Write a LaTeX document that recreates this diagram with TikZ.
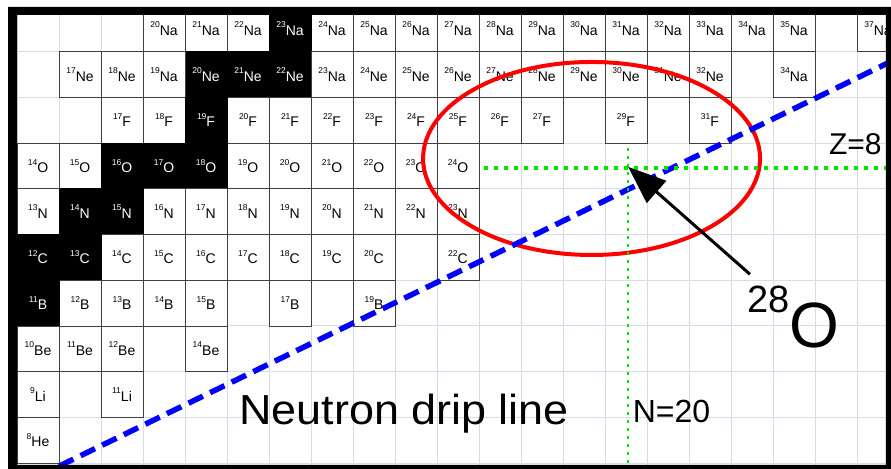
\documentclass[tikz,border=0pt]{standalone}
\usepackage{fontspec}
\setmainfont{Liberation Sans}
\usepackage{tikz}
\usetikzlibrary{arrows.meta}
\definecolor{gridblue}{HTML}{D6DCEA}
\definecolor{dripblue}{HTML}{0000FF}
\definecolor{magicgreen}{HTML}{00E600}
\newcommand{\iso}[2]{\raisebox{7.5pt}{\fontsize{8.5}{8.5}\selectfont#1}#2}
\tikzset{
  cell/.style   = {draw=black!75, fill=white, line width=0.7pt, minimum width=42pt,
                   minimum height=45.7pt, inner sep=0pt, font=\fontsize{14}{14}\selectfont},
  stab/.style   = {cell, draw=black, fill=black, text=white},
  gridln/.style = {draw=gridblue, line width=0.8pt},
  drip/.style   = {draw=dripblue, line width=5.5pt, dash pattern=on 16pt off 8pt},
  magic/.style  = {draw=magicgreen, line width=4pt, dash pattern=on 4pt off 6pt},
  magicv/.style = {draw=magicgreen, line width=2.5pt, dash pattern=on 2.5pt off 5.5pt},
  ring/.style   = {draw=red, line width=4pt},
  ptr/.style    = {-{Triangle[length=38pt, width=29pt]}, line width=3pt},
  lbl/.style    = {inner sep=0pt, anchor=base west},
}

\begin{document}
\begin{tikzpicture}[x=42pt, y=45.7pt]
  \useasboundingbox (5.095,1.369) rectangle (26.31,11.631);
  \begin{scope}
  \clip (5.5,1.456) rectangle (26.19,11.303);
  % background grid
  \foreach \i in {5,...,25} \draw[gridln] (\i+0.5,1.3) -- (\i+0.5,11.7);
  \foreach \j in {1,...,11} \draw[gridln] (5.3,\j+0.5) -- (26.4,\j+0.5);

  % Na
  \foreach \a in {20,21,22,24,25,26,27,28,29,30,31,32,33,34,35,37}
    \node[cell] (na\a) at (\a-11,11) {\iso{\a}{Na}};
  \node[stab] (na23) at (12,11) {\iso{23}{Na}};
  % Ne
  \foreach \a in {17,18,24,25,26,27,28,29,30,31,32}
    \node[cell] (ne\a) at (\a-10,10) {\iso{\a}{Ne}};
  \foreach \a in {20,21,22}
    \node[stab] (ne\a) at (\a-10,10) {\iso{\a}{Ne}};
  \node[cell] (ne19) at (9,10) {\iso{19}{Na}};
  \node[cell] (ne23) at (13,10) {\iso{23}{Na}};
  \node[cell] (ne34) at (24,10) {\iso{34}{Na}};
  % F
  \foreach \a in {17,18,20,21,22,23,24,25,26,27,29,31}
    \node[cell] (f\a) at (\a-9,9) {\iso{\a}{F}};
  \node[stab] (f19) at (10,9) {\iso{19}{F}};
  % O
  \foreach \a in {14,15,19,20,21,22,23,24}
    \node[cell] (o\a) at (\a-8,8) {\iso{\a}{O}};
  \foreach \a in {16,17,18}
    \node[stab] (o\a) at (\a-8,8) {\iso{\a}{O}};
  % N
  \foreach \a in {13,16,17,18,19,20,21,22,23}
    \node[cell] (n\a) at (\a-7,7) {\iso{\a}{N}};
  \foreach \a in {14,15}
    \node[stab] (n\a) at (\a-7,7) {\iso{\a}{N}};
  % C
  \foreach \a in {14,15,16,17,18,19,20,22}
    \node[cell] (c\a) at (\a-6,6) {\iso{\a}{C}};
  \foreach \a in {12,13}
    \node[stab] (c\a) at (\a-6,6) {\iso{\a}{C}};
  % B
  \foreach \a in {12,13,14,15,17,19}
    \node[cell] (b\a) at (\a-5,5) {\iso{\a}{B}};
  \node[stab] (b11) at (6,5) {\iso{11}{B}};
  % Be, Li, He
  \foreach \a in {10,11,12,14}
    \node[cell] (be\a) at (\a-4,4) {\iso{\a}{Be}};
  \foreach \a in {9,11}
    \node[cell] (li\a) at (\a-3,3) {\iso{\a}{Li}};
  \node[cell] (he8) at (6,2) {\iso{8}{He}};

  % drip line, magic numbers, 28O
  \draw[ring] (19.18,8.163) ellipse [x radius=168.5pt, y radius=96.5pt];
  \coordinate (dripA) at (6.50,1.43);
  \coordinate (dripB) at (26.30,10.281);
  \draw[drip] (dripA) -- (dripB);
  \coordinate (zleft) at (16.62,7.96);
  \coordinate (zright) at (26.30,7.96);
  \draw[magic] (zleft) -- (zright);
  \coordinate (ntop) at (20.05,8.39);
  \coordinate (nbot) at (20.05,1.40);
  \draw[magicv] (ntop) -- (nbot);
  \node[lbl, font=\fontsize{30}{30}\selectfont] (zlbl) at (24.83,8.24) {Z=8};
  \node[lbl, font=\fontsize{32}{32}\selectfont] (nlbl) at (20.157,2.375) {N=20};
  \node[lbl, font=\fontsize{42}{42}\selectfont] (driplbl) at (10.786,2.331)
    {\scalebox{1.07}[1]{Neutron drip line}};
  \node[lbl] (o28) at (22.88,4.016)
    {\raisebox{35pt}{\fontsize{38}{38}\selectfont 28}\fontsize{64}{64}\selectfont O};
  \coordinate (o28pt) at (20.05,7.98);
  \draw[ptr] ([shift={(3pt,12pt)}]o28.north west) -- (o28pt);
  \end{scope}

  % frame
  \fill[black, even odd rule] (5.286,1.369) rectangle (26.31,11.478)
    (5.5,1.456) rectangle (26.19,11.303);
\end{tikzpicture}
\end{document}
